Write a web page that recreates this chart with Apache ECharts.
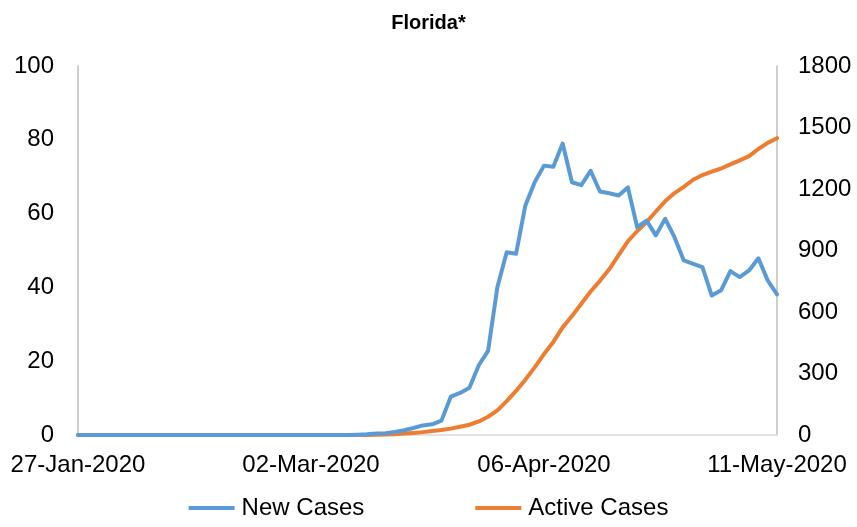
<!DOCTYPE html>
<html><head><meta charset="utf-8">
<script src="https://cdn.jsdelivr.net/npm/echarts@6/dist/echarts.min.js"></script>
<style>html,body{margin:0;padding:0;background:#fff}#c{width:857px;height:527px}</style>
</head><body><div id="c"></div>
<script>
const title = 'Florida*';
const dates = [
'27-Jan-2020','28-Jan-2020','29-Jan-2020','30-Jan-2020','31-Jan-2020',
'03-Feb-2020','04-Feb-2020','05-Feb-2020','06-Feb-2020','07-Feb-2020',
'10-Feb-2020','11-Feb-2020','12-Feb-2020','13-Feb-2020','14-Feb-2020',
'17-Feb-2020','18-Feb-2020','19-Feb-2020','20-Feb-2020','21-Feb-2020',
'24-Feb-2020','25-Feb-2020','26-Feb-2020','27-Feb-2020','28-Feb-2020',
'02-Mar-2020','03-Mar-2020','04-Mar-2020','05-Mar-2020','06-Mar-2020',
'09-Mar-2020','10-Mar-2020','11-Mar-2020','12-Mar-2020','13-Mar-2020',
'16-Mar-2020','17-Mar-2020','18-Mar-2020','19-Mar-2020','20-Mar-2020',
'23-Mar-2020','24-Mar-2020','25-Mar-2020','26-Mar-2020','27-Mar-2020',
'30-Mar-2020','31-Mar-2020','01-Apr-2020','02-Apr-2020','03-Apr-2020',
'06-Apr-2020','07-Apr-2020','08-Apr-2020','09-Apr-2020','10-Apr-2020',
'13-Apr-2020','14-Apr-2020','15-Apr-2020','16-Apr-2020','17-Apr-2020',
'20-Apr-2020','21-Apr-2020','22-Apr-2020','23-Apr-2020','24-Apr-2020',
'27-Apr-2020','28-Apr-2020','29-Apr-2020','30-Apr-2020','01-May-2020',
'04-May-2020','05-May-2020','06-May-2020','07-May-2020','08-May-2020',
'11-May-2020'];
const newCases = [
0,0,0,0,0, 0,0,0,0,0, 0,0,0,0,0, 0,0,0,0,0, 0,0,0,0,0, 0,0,0,0,0,
0.1,0.2,0.4,0.5,0.8, 1.3,1.9,2.6,2.9,3.9,
10.4,11.4,12.8,18.9,22.8, 40.1,49.5,49.1,62.2,68.5,
73.0,72.7,79.0,68.5,67.7, 71.6,66.0,65.5,64.9,67.1,
56.3,58.1,54.1,58.6,53.6, 47.3,46.4,45.5,37.8,39.2,
44.4,42.8,44.6,47.9,41.9, 38.1];
const activeCases = [
0,0,0,0,0, 0,0,0,0,0, 0,0,0,0,0, 0,0,0,0,0, 0,0,0,0,0, 0,0,0,0,0,
0,0,1,2,4, 7,10,14,19,24,
31,40,50,66,89, 120,165,215,270,330,
395,454,525,580,640, 700,752,808,877,945,
995,1038,1090,1140,1180, 1210,1245,1268,1285,1300,
1320,1340,1360,1395,1425, 1448];
const seriesNames = ['New Cases','Active Cases'];
const leftTicks = {min:0, max:100, interval:20};
const rightTicks = {min:0, max:1800, interval:300};

const font = '"Liberation Sans", Arial, sans-serif';
const chart = echarts.init(document.getElementById('c'), null, {renderer:'canvas'});
chart.setOption({
  animation:false,
  backgroundColor:'#fff',
  title:{text:title, left:'center', top:8, textStyle:{fontFamily:font, fontSize:20, fontWeight:'bold', color:'#000'}},
  grid:{left:78, right:80, top:66, bottom:92, containLabel:false},
  legend:{bottom:2, left:'center', itemGap:111, itemWidth:46, itemHeight:4, icon:'rect',
    textStyle:{fontFamily:font, fontSize:24, color:'#000', padding:[0,0,0,2]},
    data:seriesNames},
  xAxis:{type:'category', data:dates, boundaryGap:false,
    axisLine:{lineStyle:{color:'#d9d9d9', width:1.5}}, axisTick:{show:false},
    axisLabel:{interval:24, fontFamily:font, fontSize:24, color:'#000', margin:18}},
  yAxis:[
    {type:'value', min:leftTicks.min, max:leftTicks.max, interval:leftTicks.interval,
     splitLine:{show:false}, axisLine:{show:true, lineStyle:{color:'#bfbfbf', width:1.5}}, axisTick:{show:false},
     axisLabel:{fontFamily:font, fontSize:24, color:'#000', margin:24}},
    {type:'value', min:rightTicks.min, max:rightTicks.max, interval:rightTicks.interval,
     splitLine:{show:false}, axisLine:{show:true, lineStyle:{color:'#bfbfbf', width:1.5}}, axisTick:{show:false},
     axisLabel:{fontFamily:font, fontSize:24, color:'#000', margin:21, formatter:function(v){return String(v);}}}
  ],
  series:[
    {name:seriesNames[0], type:'line', data:newCases, yAxisIndex:0, showSymbol:false,
     lineStyle:{color:'#5B9BD5', width:4, join:'round', cap:'round'}, itemStyle:{color:'#5B9BD5'}, z:3},
    {name:seriesNames[1], type:'line', data:activeCases, yAxisIndex:1, showSymbol:false,
     lineStyle:{color:'#ED7D31', width:4, join:'round', cap:'round'}, itemStyle:{color:'#ED7D31'}, z:2}
  ]
});
</script></body></html>
